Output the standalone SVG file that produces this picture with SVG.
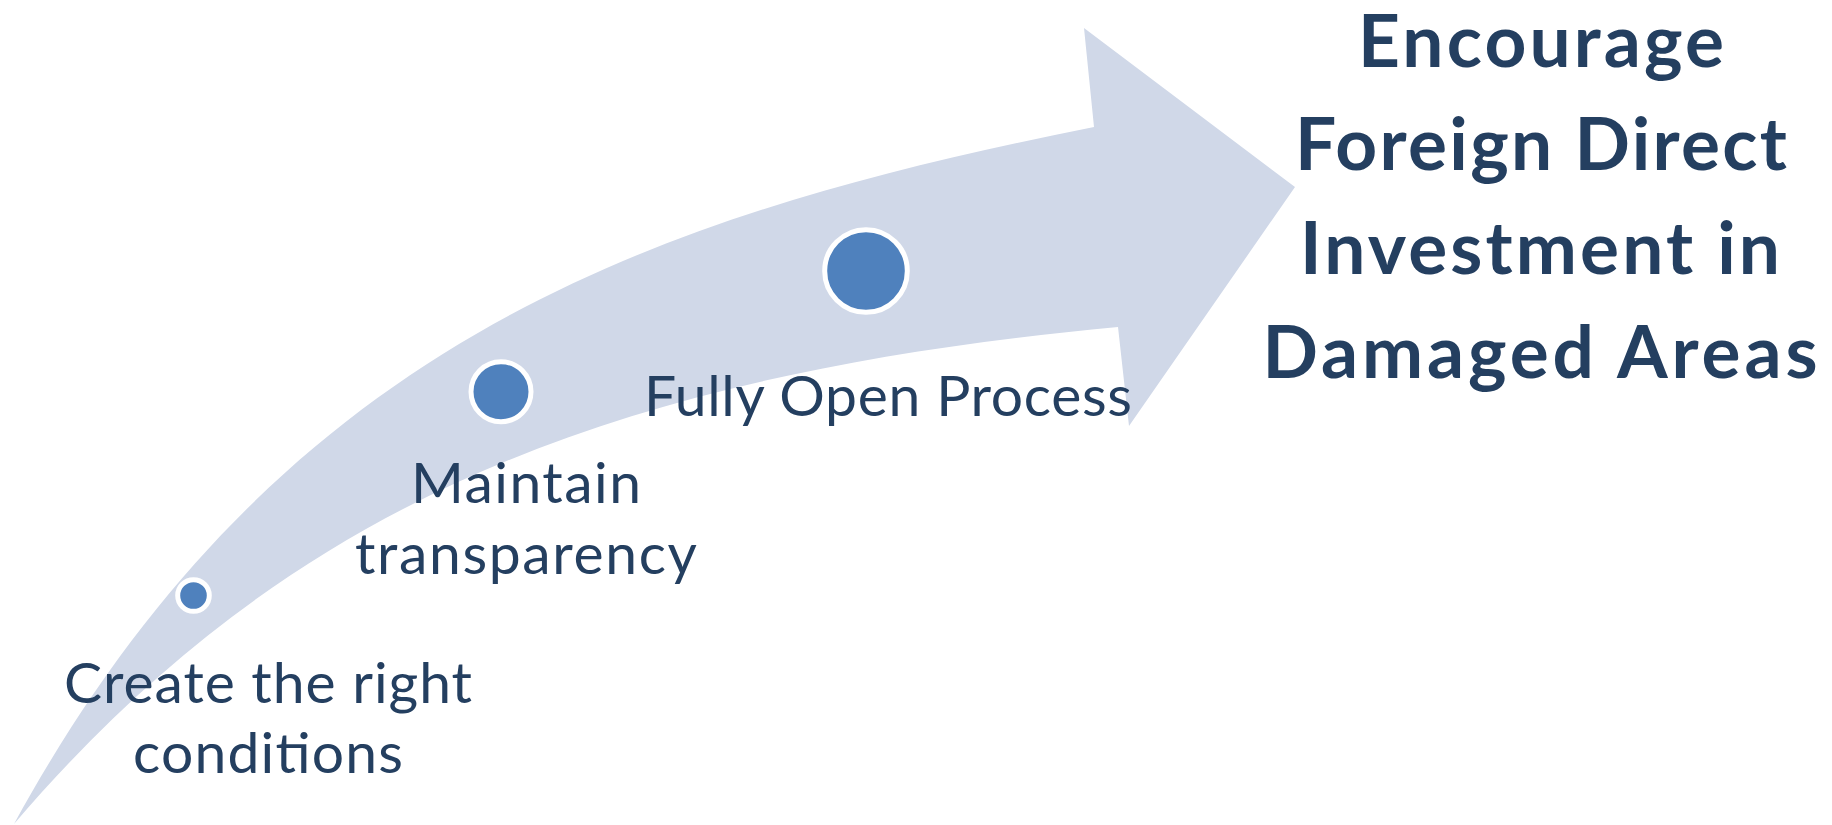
<svg xmlns="http://www.w3.org/2000/svg" width="1832" height="825" viewBox="0 0 1832 825">
  <style>
    .band { fill: #D0D8E8; }
    .dot { fill: #4F81BD; stroke: #FFFFFF; stroke-width: 5; }
    .step { font-family: Lato, "Open Sans", "Liberation Sans", sans-serif; font-size: 57px; fill: #243F60; text-anchor: middle; }
    .goal { font-family: Lato, "Open Sans", "Liberation Sans", sans-serif; font-size: 73px; font-weight: bold; fill: #243F60; text-anchor: middle; }
  </style>
  <rect width="1832" height="825" fill="#FFFFFF"/>

  <!-- curved upward arrow: outer edge, head, inner edge back to the tail point -->
  <g id="arrow">
    <path class="band" d="M14,824
      C278,341 653,215 1094,127
      L1084,28 L1295,187 L1129,426 L1118,327
      C620,374 293.5,497 14,824 Z"/>
  </g>

  <!-- steps along the arrow -->
  <g id="step-conditions">
    <circle class="dot" cx="193.5" cy="595.5" r="15.8"/>
    <text class="step" x="268" y="703" textLength="408">Create the right</text>
    <text class="step" x="268" y="773" textLength="270">conditions</text>
  </g>

  <g id="step-transparency">
    <circle class="dot" cx="501" cy="391.7" r="30"/>
    <text class="step" x="526" y="503" textLength="230">Maintain</text>
    <text class="step" x="526" y="574" textLength="342">transparency</text>
  </g>

  <g id="step-open-process">
    <circle class="dot" cx="866" cy="271" r="41.3"/>
    <text class="step" x="888" y="416" textLength="488">Fully Open Process</text>
  </g>

  <!-- goal at the arrow head -->
  <g id="goal">
    <text class="goal" x="1541" y="67" textLength="366">Encourage</text>
    <text class="goal" x="1541" y="170" textLength="492">Foreign Direct</text>
    <text class="goal" x="1540" y="274" textLength="480">Investment in</text>
    <text class="goal" x="1540" y="378" textLength="555">Damaged Areas</text>
  </g>
</svg>
